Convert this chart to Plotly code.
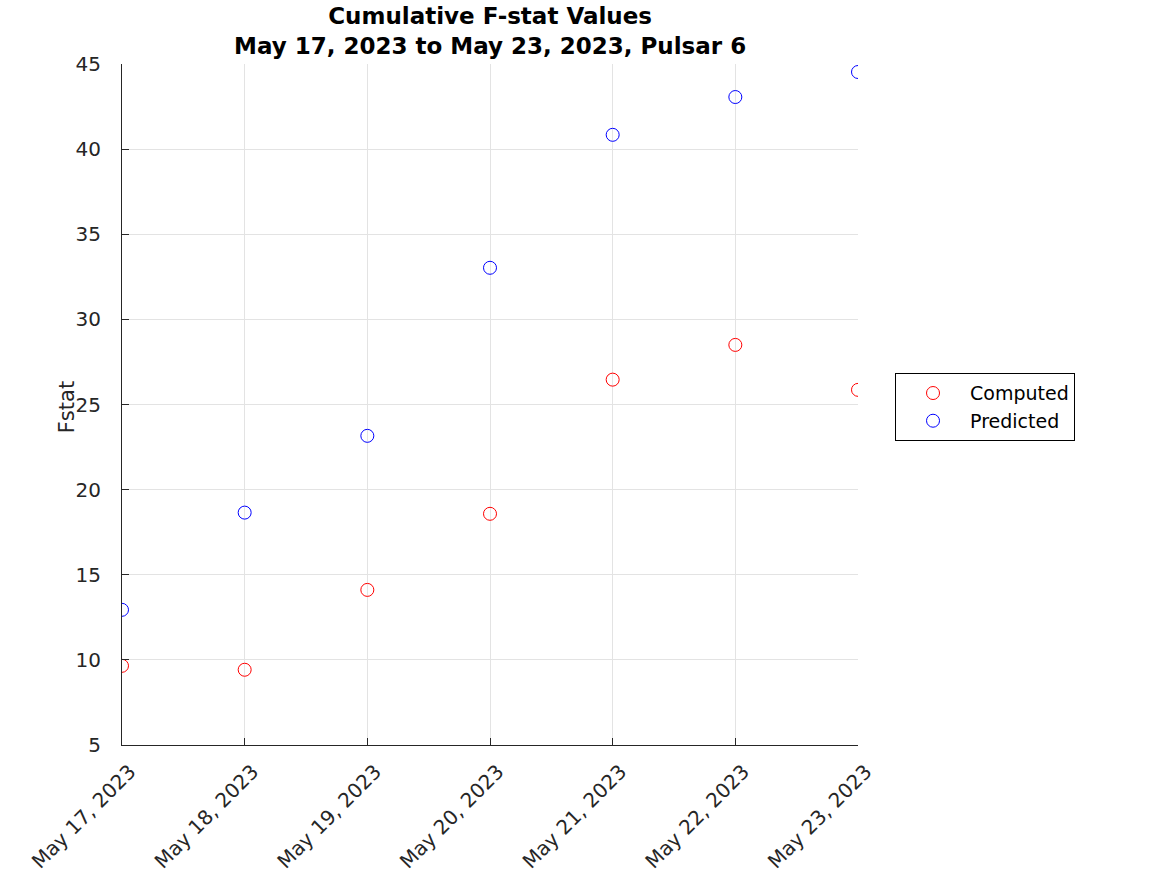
import plotly.graph_objects as go

# -----------------------------------
# DATA
# -----------------------------------

dates = ["2023-05-17", "2023-05-18", "2023-05-19", "2023-05-20",
         "2023-05-21", "2023-05-22", "2023-05-23"]
computed = [9.65, 9.42, 14.11, 18.58, 26.46, 28.50, 25.86]
predicted = [12.94, 18.65, 23.16, 33.03, 40.84, 43.06, 44.53]
y_ticks = [5, 10, 15, 20, 25, 30, 35, 40, 45]

font_family = "DejaVu Sans"
grid_color = "#e3e3e3"
axis_color = "#262626"

# plot area in pixels: x 122..858, y 64..745
fig = go.Figure()
fig.add_trace(go.Scatter(x=dates, y=computed, mode="markers", name="Computed",
                         marker=dict(symbol="circle-open", size=13, color="#ff0000", line=dict(width=1))))
fig.add_trace(go.Scatter(x=dates, y=predicted, mode="markers", name="Predicted",
                         marker=dict(symbol="circle-open", size=13, color="#0000ff", line=dict(width=1))))

fig.update_layout(
    width=1167, height=875,
    margin=dict(l=122, r=309, t=64, b=130, autoexpand=False),
    paper_bgcolor="white", plot_bgcolor="white",
    font=dict(family=font_family, size=20, color=axis_color),
    legend=dict(x=1.0503, y=0.546, xanchor="left", yanchor="top",
                bordercolor="black", borderwidth=1, bgcolor="white",
                font=dict(size=19, color="black"), itemwidth=64),
    showlegend=True,
)
# title, as an annotation so both lines stay on the page
fig.add_annotation(text="<b>Cumulative F-stat Values<br>May 17, 2023 to May 23, 2023, Pulsar 6</b>",
                   xref="paper", yref="paper", x=0.5, y=(745 - 1) / 681,
                   xanchor="center", yanchor="top", showarrow=False,
                   font=dict(size=23, color="black"))
# y-axis title
fig.add_annotation(text="Fstat", xref="paper", yref="paper",
                   x=(67 - 122) / 736, y=0.496, textangle=-90,
                   xanchor="center", yanchor="middle", showarrow=False,
                   font=dict(size=21, color=axis_color))

fig.update_xaxes(
    type="date", range=[dates[0], dates[-1]],
    tickvals=dates, tickformat="%b %d, %Y", tickangle=-45,
    ticklabelstandoff=6, ticklabelshift=8, automargin=False,
    showgrid=True, gridcolor=grid_color, gridwidth=1,
    showline=True, linecolor=axis_color, linewidth=1,
    ticks="inside", ticklen=7, tickcolor=axis_color,
    zeroline=False,
)
fig.update_yaxes(
    range=[5, 45], tickvals=y_ticks,
    ticklabelstandoff=16, automargin=False,
    showgrid=True, gridcolor=grid_color, gridwidth=1,
    showline=True, linecolor=axis_color, linewidth=1,
    ticks="inside", ticklen=7, tickcolor=axis_color,
    zeroline=False,
)

# drop the browser's default body margin so the figure sits at the page corner
fig.write_html("out.html", config={"displayModeBar": False},
               post_script="document.body.style.margin='0';")
